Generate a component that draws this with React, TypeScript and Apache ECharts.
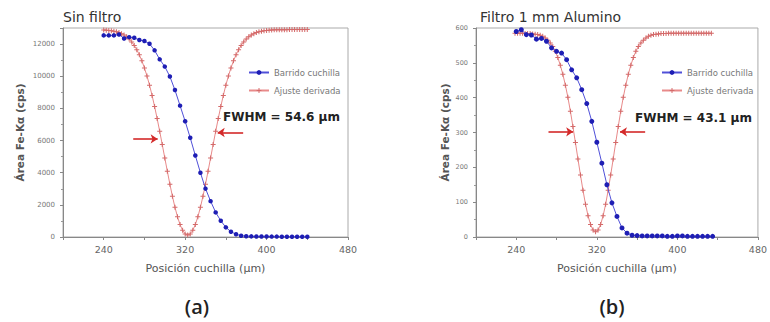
import React, { useEffect, useRef } from "react";
import * as echarts from "echarts";

// ---------- Data ----------
const panelTitles = ["Sin filtro", "Filtro 1 mm Alumino"];
const captions = ["(a)", "(b)"];
const fwhmTexts = ["FWHM = 54.6 \u00b5m", "FWHM = 43.1 \u00b5m"];
const seriesNames = ["Barrido cuchilla", "Ajuste derivada"];
const xAxisName = "Posici\u00f3n cuchilla (\u00b5m)";
const yAxisName = "\u00c1rea Fe-K\u03b1 (cps)";

// (a) Sin filtro — knife-edge scan
const scanXA = [240, 245, 250, 255, 260, 265, 270, 275, 280, 285, 290, 295, 300, 305, 310, 315, 320, 325, 330, 335, 340, 345, 350, 355, 360, 365, 370, 375, 380, 385, 390, 395, 400, 405, 410, 415, 420, 425, 430, 435, 440];
const scanYA = [12540, 12540, 12540, 12600, 12350, 12430, 12390, 12250, 12190, 12020, 11610, 11050, 10600, 9980, 9140, 8170, 7200, 6170, 5070, 4000, 3010, 2230, 1530, 1010, 600, 330, 170, 80, 50, 40, 30, 30, 30, 25, 25, 20, 20, 20, 20, 15, 15];

// (a) derivative fit
const fitXA = [240, 242.5, 245, 247.5, 250, 252.5, 255, 257.5, 260, 262.5, 265, 267.5, 270, 272.5, 275, 277.5, 280, 282.5, 285, 287.5, 290, 292.5, 295, 297.5, 300, 302.5, 305, 307.5, 310, 312.5, 315, 317.5, 320, 322.5, 325, 327.5, 330, 332.5, 335, 337.5, 340, 342.5, 345, 347.5, 350, 352.5, 355, 357.5, 360, 362.5, 365, 367.5, 370, 372.5, 375, 377.5, 380, 382.5, 385, 387.5, 390, 392.5, 395, 397.5, 400, 402.5, 405, 407.5, 410, 412.5, 415, 417.5, 420, 422.5, 425, 427.5, 430, 432.5, 435, 437.5, 440];
const fitYA = [12877, 12867, 12852, 12832, 12804, 12766, 12715, 12649, 12562, 12450, 12309, 12133, 11915, 11650, 11332, 10956, 10517, 10013, 9443, 8809, 8113, 7365, 6573, 5752, 4918, 4089, 3287, 2532, 1848, 1255, 771, 413, 194, 120, 194, 413, 771, 1255, 1848, 2532, 3287, 4089, 4918, 5752, 6573, 7365, 8113, 8809, 9443, 10013, 10517, 10956, 11332, 11650, 11915, 12133, 12309, 12450, 12562, 12649, 12715, 12766, 12804, 12832, 12852, 12867, 12877, 12884, 12889, 12893, 12895, 12897, 12898, 12899, 12900, 12900, 12900, 12900, 12900, 12900, 12900];

// (b) Filtro 1 mm Aluminio — knife-edge scan
const scanXB = [240, 245, 250, 255, 260, 265, 270, 275, 280, 285, 290, 295, 300, 305, 310, 315, 320, 325, 330, 335, 340, 345, 350, 355, 360, 365, 370, 375, 380, 385, 390, 395, 400, 405, 410, 415, 420, 425, 430, 435];
const scanYB = [590, 595, 581, 580, 568, 570, 562, 543, 533, 528, 509, 480, 457, 423, 383, 332, 272, 212, 150, 98, 59, 26, 11, 5, 4, 3, 3, 3, 3, 3, 2, 2, 3, 3, 2, 2, 2, 2, 2, 2];

// (b) derivative fit
const fitXB = [238.75, 241.25, 243.75, 246.25, 248.75, 251.25, 253.75, 256.25, 258.75, 261.25, 263.75, 266.25, 268.75, 271.25, 273.75, 276.25, 278.75, 281.25, 283.75, 286.25, 288.75, 291.25, 293.75, 296.25, 298.75, 301.25, 303.75, 306.25, 308.75, 311.25, 313.75, 316.25, 318.75, 321.25, 323.75, 326.25, 328.75, 331.25, 333.75, 336.25, 338.75, 341.25, 343.75, 346.25, 348.75, 351.25, 353.75, 356.25, 358.75, 361.25, 363.75, 366.25, 368.75, 371.25, 373.75, 376.25, 378.75, 381.25, 383.75, 386.25, 388.75, 391.25, 393.75, 396.25, 398.75, 401.25, 403.75, 406.25, 408.75, 411.25, 413.75, 416.25, 418.75, 421.25, 423.75, 426.25, 428.75, 431.25, 433.75];
const fitYB = [585, 585, 585, 585, 584, 584, 584, 583, 582, 581, 579, 576, 571, 565, 557, 547, 533, 515, 493, 467, 436, 401, 361, 317, 271, 224, 178, 134, 94, 61, 36, 20, 15, 20, 36, 61, 94, 134, 178, 224, 271, 317, 361, 401, 436, 467, 493, 515, 533, 547, 557, 565, 571, 576, 579, 581, 582, 583, 584, 584, 584, 585, 585, 585, 585, 585, 585, 585, 585, 585, 585, 585, 585, 585, 585, 585, 585, 585, 585];

// FWHM arrows: [xFrom, xTo, y]
const arrowsA = [[269, 293, 6100], [377, 352, 6500]];
const arrowsB = [[272, 296.5, 302], [368, 343, 302]];

// Axis ranges / ticks
const xMin = 200, xMax = 480, xTickStep = 40;
const xLabelTicks = [240, 320, 400, 480];
const yMaxA = 13000, yStepA = 2000;
const yMaxB = 600, yStepB = 100;

const FONT = "DejaVu Sans";
const PLUS = "path://M4,0H6V4H10V6H6V10H4V6H0V4H4Z";

function zip(xs: number[], ys: number[]) {
  return xs.map((x, i) => [x, ys[i]]);
}

function arrowLines(arr: number[][]) {
  return arr.map(([x1, x2, y]) => [{ coord: [x1, y] }, { coord: [x2, y] }]);
}

export default function App() {
  const ref = useRef<HTMLDivElement>(null);
  useEffect(() => {
    if (!ref.current) return;
    const chart = echarts.init(ref.current, undefined, { renderer: "svg" });

    const grids = [
      { left: 63, top: 28, width: 285, height: 209 },
      { left: 476, top: 28, width: 287, height: 209 },
    ];

    const mkX = (gi: number) => ({
      type: "value",
      gridIndex: gi,
      min: xMin,
      max: xMax,
      interval: xTickStep,
      name: xAxisName,
      nameLocation: "middle",
      nameGap: 26,
      nameTextStyle: { fontFamily: FONT, fontSize: 11, color: "#555" },
      axisLine: { show: true, lineStyle: { color: "#888", width: 1 } },
      axisTick: { show: true, length: 3, lineStyle: { color: "#888" } },
      minorTick: { show: false },
      splitLine: { show: false },
      axisLabel: {
        fontFamily: FONT,
        fontSize: 9.5,
        color: "#666",
        margin: 7,
        formatter: (v: number) => (xLabelTicks.includes(v) ? String(v) : ""),
      },
    });

    const mkY = (gi: number, max: number, step: number, fs: number, gap: number, showMax: boolean) => ({
      type: "value",
      gridIndex: gi,
      min: 0,
      max,
      interval: step,
      name: yAxisName,
      nameLocation: "middle",
      nameRotate: 90,
      nameGap: gap,
      nameTextStyle: { fontFamily: FONT, fontSize: 10.5, fontWeight: "bold", color: "#555" },
      axisLine: { show: true, lineStyle: { color: "#888", width: 1 } },
      axisTick: { show: true, length: 3, lineStyle: { color: "#888" } },
      minorTick: { show: true, splitNumber: 2, length: 2, lineStyle: { color: "#999" } },
      splitLine: { show: false },
      axisLabel: {
        fontFamily: FONT,
        fontSize: fs,
        color: "#777",
        margin: 8,
        showMaxLabel: showMax,
        formatter: (v: number) => String(v),
      },
    });

    const scanSeries = (gi: number, data: number[][], size: number) => ({
      name: seriesNames[0],
      type: "line",
      xAxisIndex: gi,
      yAxisIndex: gi,
      data,
      symbol: "circle",
      symbolSize: size,
      lineStyle: { color: "#5050d8", width: 1 },
      itemStyle: { color: "#1e1eb4" },
      z: 3,
    });

    const fitSeries = (gi: number, data: number[][], arrows: number[][]) => ({
      name: seriesNames[1],
      type: "line",
      xAxisIndex: gi,
      yAxisIndex: gi,
      data,
      symbol: PLUS,
      symbolSize: 5,
      lineStyle: { color: "#e88a8a", width: 1 },
      itemStyle: { color: "#d46a6a" },
      z: 2,
      markLine: {
        silent: true,
        symbol: ["none", "arrow"],
        symbolSize: 7,
        label: { show: false },
        lineStyle: { color: "#d42a2a", width: 1.6, type: "solid" },
        data: arrowLines(arrows),
      },
    });

    const legendCommon = {
      orient: "vertical",
      top: 63,
      itemWidth: 20,
      itemHeight: 6,
      itemGap: 9,
      data: seriesNames,
      textStyle: { fontFamily: FONT, fontSize: 8.5, color: "#777" },
    };

    chart.setOption({
      animation: false,
      backgroundColor: "#ffffff",
      title: [
        { text: panelTitles[0], left: 63, top: 10, padding: 0, textStyle: { fontFamily: FONT, fontSize: 14, fontWeight: "normal", color: "#333" } },
        { text: panelTitles[1], left: 480, top: 10, padding: 0, textStyle: { fontFamily: FONT, fontSize: 14, fontWeight: "normal", color: "#333" } },
      ],
      grid: grids.map((g) => ({ ...g, show: true, borderColor: "#aaa", borderWidth: 1, backgroundColor: "transparent" })),
      xAxis: [mkX(0), mkX(1)],
      yAxis: [mkY(0, yMaxA, yStepA, 7, 38, false), mkY(1, yMaxB, yStepB, 6.5, 26, true)],
      legend: [
        { ...legendCommon, left: 243 },
        { ...legendCommon, left: 656 },
      ],
      series: [
        fitSeries(0, zip(fitXA, fitYA), arrowsA),
        scanSeries(0, zip(scanXA, scanYA), 4.5),
        fitSeries(1, zip(fitXB, fitYB), arrowsB),
        scanSeries(1, zip(scanXB, scanYB), 5),
      ],
      graphic: [
        { type: "text", x: 223, y: 117, style: { text: fwhmTexts[0], fontFamily: FONT, fontSize: 12, fontWeight: "bold", fill: "#222", verticalAlign: "middle" } },
        { type: "text", x: 635, y: 118, style: { text: fwhmTexts[1], fontFamily: FONT, fontSize: 12, fontWeight: "bold", fill: "#222", verticalAlign: "middle" } },
        { type: "text", x: 197, y: 306, style: { text: captions[0], fontFamily: "Open Sans", fontSize: 20, fontWeight: 600, fill: "#222", align: "center", verticalAlign: "middle" } },
        { type: "text", x: 612, y: 306, style: { text: captions[1], fontFamily: "Open Sans", fontSize: 20, fontWeight: 600, fill: "#222", align: "center", verticalAlign: "middle" } },
      ],
    });

    return () => chart.dispose();
  }, []);

  return (
    <div
      ref={ref}
      style={{ position: "absolute", left: 0, top: 0, width: 770, height: 322, background: "#fff" }}
    />
  );
}
